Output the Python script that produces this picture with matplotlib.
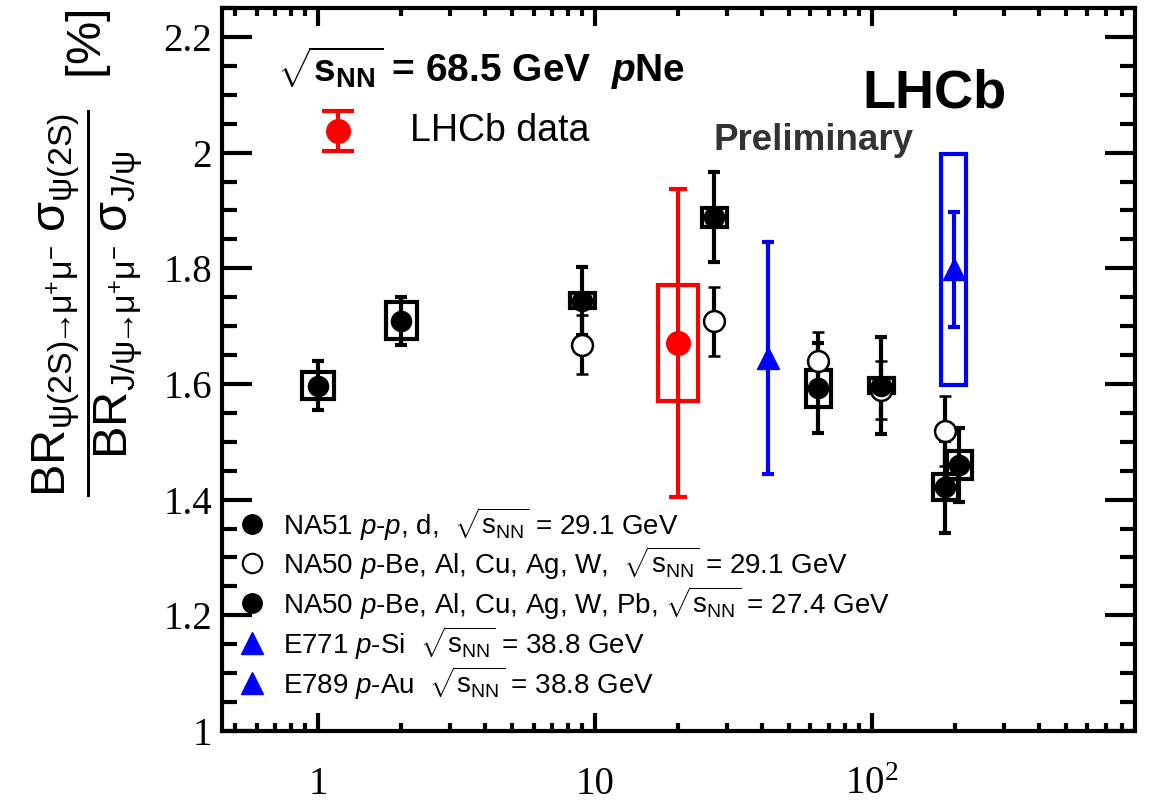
import matplotlib
matplotlib.use("Agg")
import matplotlib.pyplot as plt
from matplotlib.patches import Rectangle
from matplotlib.ticker import FixedLocator, FixedFormatter, MultipleLocator, NullFormatter, LogLocator

plt.rcParams["font.family"] = ["Liberation Sans", "DejaVu Sans"]
plt.rcParams["mathtext.fontset"] = "custom"
plt.rcParams["mathtext.rm"] = "Liberation Sans"
plt.rcParams["mathtext.it"] = "Liberation Sans:italic"
plt.rcParams["mathtext.bf"] = "Liberation Sans:bold"
plt.rcParams["mathtext.sf"] = "Liberation Sans:bold:italic"

# --- data (x = mass number A of the target) ---
lhcb_A = [20]
lhcb_val = [1.671]
lhcb_stat = [0.266]
lhcb_sys = [0.10]

na51_A = [1, 2]
na51_val = [1.597, 1.709]
na51_stat = [0.042, 0.042]
na51_sys = [0.023, 0.032]

na50_291_A = [9, 27, 64, 108, 184]
na50_291_val = [1.668, 1.708, 1.640, 1.590, 1.519]
na50_291_stat = [0.051, 0.060, 0.049, 0.050, 0.060]

na50_274_A = [9, 27, 64, 108, 184, 207]
na50_274_val = [1.744, 1.888, 1.593, 1.597, 1.422, 1.460]
na50_274_stat = [0.059, 0.078, 0.077, 0.084, 0.079, 0.064]
na50_274_sys = [0.013, 0.017, 0.032, 0.013, 0.023, 0.024]

e771_A = [42]
e771_val = [1.645]
e771_stat = [0.20]

e789_A = [197]
e789_val = [1.798]
e789_stat = [0.10]
e789_sys = [0.20]

xticks = [1, 10, 100]
xticklabels = ["1", "10", r"$\mathregular{10^{2}}$"]
yticks = [1.0, 1.2, 1.4, 1.6, 1.8, 2.0, 2.2]
yticklabels = ["1", "1.2", "1.4", "1.6", "1.8", "2", "2.2"]

legend_labels = [
    r"NA51 $p$-$p$, d,  $\sqrt{\mathrm{s}_{\mathrm{NN}}}$ = 29.1 GeV",
    r"NA50 $p$-Be, Al, Cu, Ag, W,  $\sqrt{\mathrm{s}_{\mathrm{NN}}}$ = 29.1 GeV",
    r"NA50 $p$-Be, Al, Cu, Ag, W, Pb, $\sqrt{\mathrm{s}_{\mathrm{NN}}}$ = 27.4 GeV",
    r"E771 $p$-Si  $\sqrt{\mathrm{s}_{\mathrm{NN}}}$ = 38.8 GeV",
    r"E789 $p$-Au  $\sqrt{\mathrm{s}_{\mathrm{NN}}}$ = 38.8 GeV",
]

BLUE = "#0000ff"
RED = "#ff0000"

fig = plt.figure(figsize=(11.53, 8.01), dpi=100)
ax = fig.add_axes([0.1925, 0.0874, 0.7918, 0.9026])


def sys_boxes(A, val, sys, color, f, lw=3):
    for a, v, s in zip(A, val, sys):
        ax.add_patch(Rectangle((a / f, v - s), a * f - a / f, 2 * s, fill=False,
                               edgecolor=color, lw=lw, zorder=2))


eb = dict(elinewidth=3, capsize=4.5, capthick=3, linestyle="none", zorder=3)

# systematic boxes
sys_boxes(na51_A, na51_val, na51_sys, "k", 1.14)
sys_boxes(na50_274_A, na50_274_val, na50_274_sys, "k", 1.11)
sys_boxes(lhcb_A, lhcb_val, lhcb_sys, RED, 1.18)
sys_boxes(e789_A, e789_val, e789_sys, BLUE, 1.11)

# points with stat. errors
ax.errorbar(na50_291_A, na50_291_val, yerr=na50_291_stat, marker="o", ms=15,
            mfc="white", mec="k", mew=1.8, color="k", **eb)
ax.errorbar(na51_A, na51_val, yerr=na51_stat, marker="o", ms=14.5, color="k", **eb)
ax.errorbar(na50_274_A, na50_274_val, yerr=na50_274_stat, marker="o", ms=14.5, color="k", **eb)
ax.errorbar(e771_A, e771_val, yerr=e771_stat, marker="^", ms=16, color=BLUE, **eb)
ax.errorbar(e789_A, e789_val, yerr=e789_stat, marker="^", ms=16, color=BLUE, **eb)
ax.errorbar(lhcb_A, lhcb_val, yerr=lhcb_stat, marker="o", ms=17, color=RED,
            elinewidth=3, capsize=6.5, capthick=3, linestyle="none", zorder=4)

# axes
ax.set_xscale("log")
ax.set_xlim(0.45, 890)
ax.set_ylim(1.0, 2.25)
ax.xaxis.set_major_locator(FixedLocator(xticks))
ax.xaxis.set_major_formatter(FixedFormatter(xticklabels))
ax.xaxis.set_minor_locator(LogLocator(base=10, subs=range(2, 10)))
ax.xaxis.set_minor_formatter(NullFormatter())
ax.yaxis.set_major_locator(FixedLocator(yticks))
ax.yaxis.set_major_formatter(FixedFormatter(yticklabels))
ax.yaxis.set_minor_locator(MultipleLocator(0.05))

for s in ax.spines.values():
    s.set_linewidth(3)
ax.tick_params(axis="both", which="both", direction="in", top=True, right=True, width=3)
ax.tick_params(axis="x", which="major", length=13, pad=25)
ax.tick_params(axis="x", which="minor", length=6)
ax.tick_params(axis="y", which="major", length=21.5, pad=7)
ax.tick_params(axis="y", which="minor", length=10.5)
for lab in ax.get_xticklabels() + ax.get_yticklabels():
    lab.set_fontfamily("Liberation Serif")
    lab.set_fontsize(28)

# y label
ylab = (r"$\dfrac{\mathrm{BR}_{\mathrm{\psi(2S)}\!\!\rightarrow\!\!\mathrm{\mu^{+}\mu^{-}}}\;"
        r"\mathrm{\sigma}_{\mathrm{\psi(2S)}}}"
        r"{\mathrm{BR}_{\mathrm{J/\psi}\!\!\rightarrow\!\!\mathrm{\mu^{+}\mu^{-}}}\;"
        r"\mathrm{\sigma}_{\mathrm{J/\psi}}}$  [%]")
fig.text(88 / 1153, 1 - 253 / 801, ylab, rotation=90, ha="center", va="center", fontsize=35)

# texts
ax.text(0.060, 0.8977, r"$\sqrt{\mathbf{s}_{\mathbf{NN}}}$ = 68.5 GeV  $\mathsf{p}$Ne",
        transform=ax.transAxes, fontsize=28, fontweight="bold", va="baseline")
ax.text(0.702, 0.863, "LHCb", transform=ax.transAxes, fontsize=39,
        fontweight="bold", va="baseline")
ax.text(0.538, 0.8036, "Preliminary", transform=ax.transAxes, fontsize=26.5,
        fontweight="bold", color="#333333", va="baseline")

# LHCb data legend
ax.errorbar([0.127], [0.830], yerr=[0.0277], transform=ax.transAxes, marker="o", ms=17,
            color=RED, elinewidth=3, capsize=11.5, capthick=3, linestyle="none", clip_on=False)
ax.text(0.206, 0.830, "LHCb data", transform=ax.transAxes, fontsize=27, va="center")

# bottom legend
rows_y = [0.2863, 0.2324, 0.1770, 0.1217, 0.0664]
leg_styles = [
    dict(marker="o", ms=14, mfc="k", mec="k"),
    dict(marker="o", ms=14, mfc="white", mec="k", mew=1.5),
    dict(marker="o", ms=14, mfc="k", mec="k"),
    dict(marker="^", ms=16, mfc=BLUE, mec=BLUE),
    dict(marker="^", ms=16, mfc=BLUE, mec=BLUE),
]
for yy, lab, st in zip(rows_y, legend_labels, leg_styles):
    ax.plot([0.0329], [yy], transform=ax.transAxes, linestyle="none", **st)
    ax.text(0.0668, yy, lab, transform=ax.transAxes, fontsize=20, va="center")

fig.savefig("out.png", dpi=100)
